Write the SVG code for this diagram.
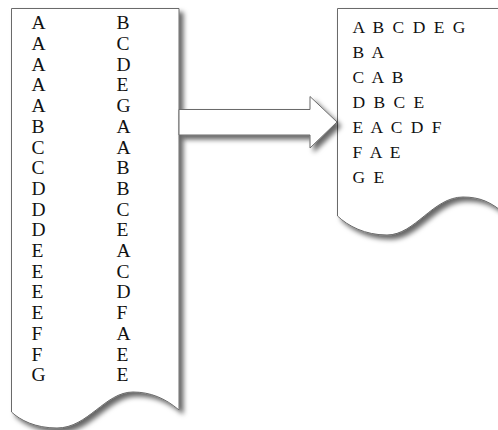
<svg xmlns="http://www.w3.org/2000/svg" width="498" height="430" viewBox="0 0 498 430">
<defs>
<filter id="sh" x="-10%" y="-10%" width="130%" height="130%">
<feDropShadow dx="4" dy="4" stdDeviation="2.6" flood-color="#000" flood-opacity="0.6"/>
</filter>
<style>
.shape{fill:#fff;stroke:#6a6a6a;stroke-width:1;filter:url(#sh)}
.t{font-family:"Liberation Serif","Times New Roman",serif;fill:#111}
.l{font-size:19.5px}
.r{font-size:17.5px;letter-spacing:2px}
</style>
</defs>
<g id="edge-list">
<path class="shape" d="M11.5,8.5 H179 V410 C165,398 150,392 133,392 C105,392 88,428 57,428 C35,428 20,420 11.5,412 Z"/>
<g class="t l">
<text x="31.5" y="29.3">A</text><text x="116.5" y="29.3">B</text>
<text x="31.5" y="50">A</text><text x="116.5" y="50">C</text>
<text x="31.5" y="70.7">A</text><text x="116.5" y="70.7">D</text>
<text x="31.5" y="91.4">A</text><text x="116.5" y="91.4">E</text>
<text x="31.5" y="112.1">A</text><text x="116.5" y="112.1">G</text>
<text x="31.5" y="132.8">B</text><text x="116.5" y="132.8">A</text>
<text x="31.5" y="153.5">C</text><text x="116.5" y="153.5">A</text>
<text x="31.5" y="174.2">C</text><text x="116.5" y="174.2">B</text>
<text x="31.5" y="194.9">D</text><text x="116.5" y="194.9">B</text>
<text x="31.5" y="215.6">D</text><text x="116.5" y="215.6">C</text>
<text x="31.5" y="236.3">D</text><text x="116.5" y="236.3">E</text>
<text x="31.5" y="257">E</text><text x="116.5" y="257">A</text>
<text x="31.5" y="277.7">E</text><text x="116.5" y="277.7">C</text>
<text x="31.5" y="298.4">E</text><text x="116.5" y="298.4">D</text>
<text x="31.5" y="319.1">E</text><text x="116.5" y="319.1">F</text>
<text x="31.5" y="339.8">F</text><text x="116.5" y="339.8">A</text>
<text x="31.5" y="360.5">F</text><text x="116.5" y="360.5">E</text>
<text x="31.5" y="381.2">G</text><text x="116.5" y="381.2">E</text>
</g>
</g>
<g id="adjacency-list">
<path class="shape" d="M337.5,8.5 H505 V214 C491,202 480,197 463,197 C433,197 415,235 387,235 C365,235 348,226 337.5,216 Z"/>
<g class="t r">
<text x="352.5" y="33">A B C D E G</text>
<text x="352.5" y="58">B A</text>
<text x="352.5" y="83">C A B</text>
<text x="352.5" y="108">D B C E</text>
<text x="352.5" y="133">E A C D F</text>
<text x="352.5" y="158">F A E</text>
<text x="352.5" y="183">G E</text>
</g>
</g>
<g id="connectors">
<path class="shape" d="M179,109.5 H310 V96.5 L337,122 L310,148 V135 H179 Z"/>
</g>
</svg>
